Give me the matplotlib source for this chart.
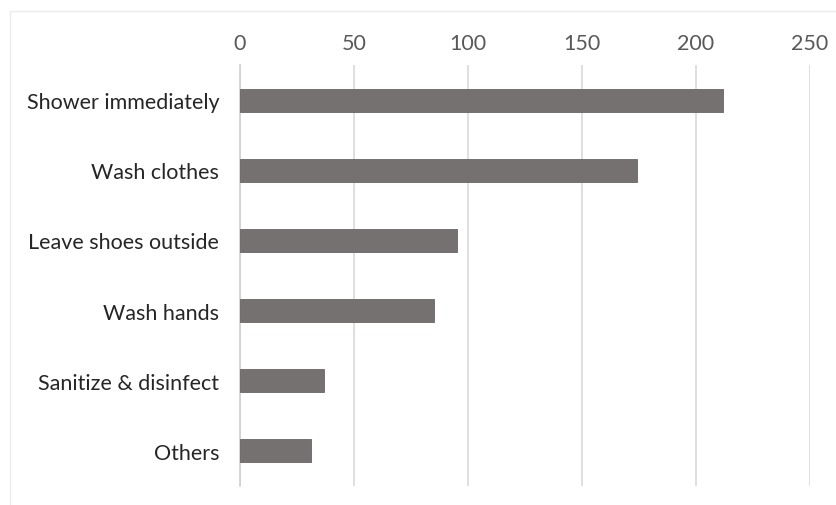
import matplotlib.pyplot as plt
from matplotlib.patches import Rectangle

categories = ["Shower immediately", "Wash clothes", "Leave shoes outside",
              "Wash hands", "Sanitize & disinfect", "Others"]
counts = [212, 174, 95, 85, 37, 31]
xticks = [0, 50, 100, 150, 200, 250]

plt.rcParams['font.family'] = ['Lato', 'DejaVu Sans']

fig = plt.figure(figsize=(8.36, 5.06), dpi=100)
fig.patches.append(Rectangle((10/836, -0.1), 1.1, 1 - 12/506 + 0.1, transform=fig.transFigure,
                             fill=False, edgecolor='#ebebeb', linewidth=1))
ax = fig.add_axes([240/836, 1 - 487/506, 570/836, 421/506])

ypos = list(range(len(categories)))
ax.barh(ypos, counts, height=0.33, color='#767171', edgecolor='#6a6565', linewidth=0.6, zorder=3)
ax.set_yticks(ypos)
ax.set_yticklabels(categories, fontsize=15.5, color='#262626')
ax.set_ylim(len(categories) - 0.5, -0.5)
ax.set_xlim(0, 250)
ax.set_xticks(xticks)
ax.xaxis.tick_top()
ax.tick_params(axis='x', length=0, labelsize=15.5, labelcolor='#595959', pad=9)
ax.tick_params(axis='y', length=0, pad=15)
ax.grid(axis='x', color='#d9d9d9', linewidth=1.2, zorder=0)
for s in ['top', 'right', 'bottom']:
    ax.spines[s].set_visible(False)
ax.spines['left'].set_color('#d0d0d0')
ax.spines['left'].set_linewidth(1.2)

fig.savefig('out.png', dpi=100)
